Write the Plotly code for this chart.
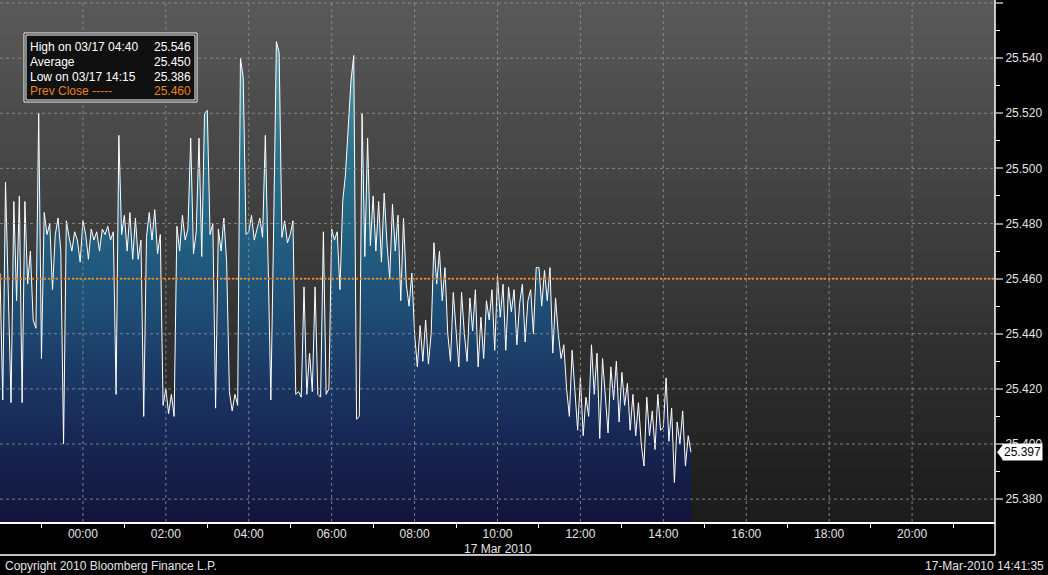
import plotly.graph_objects as go
import pandas as pd

# ---------------- data ----------------
start_time = "2010-03-16 22:00"
step_minutes = 4

price = [
    # 22:00
    25.462, 25.416, 25.495, 25.451, 25.415, 25.488, 25.452, 25.490, 25.415, 25.488, 25.458, 25.470, 25.445, 25.442, 25.520,
    # 23:00
    25.431, 25.484, 25.476, 25.480, 25.456, 25.476, 25.482, 25.470, 25.400, 25.481, 25.475, 25.470, 25.477, 25.474, 25.466,
    # 00:00
    25.481, 25.476, 25.467, 25.478, 25.474, 25.477, 25.470, 25.478, 25.476, 25.479, 25.474, 25.477, 25.418, 25.512, 25.476,
    # 01:00
    25.483, 25.470, 25.484, 25.467, 25.482, 25.467, 25.474, 25.410, 25.475, 25.484, 25.474, 25.485, 25.469, 25.476, 25.414,
    # 02:00
    25.420, 25.411, 25.418, 25.410, 25.479, 25.470, 25.483, 25.474, 25.478, 25.511, 25.469, 25.477, 25.511, 25.468, 25.520,
    # 03:00
    25.521, 25.476, 25.480, 25.413, 25.478, 25.470, 25.482, 25.466, 25.419, 25.412, 25.418, 25.414, 25.540, 25.533, 25.476,
    # 04:00
    25.477, 25.483, 25.474, 25.478, 25.482, 25.475, 25.512, 25.466, 25.416, 25.478, 25.546, 25.542, 25.475, 25.481, 25.473,
    # 05:00
    25.476, 25.481, 25.418, 25.419, 25.417, 25.457, 25.418, 25.433, 25.419, 25.457, 25.418, 25.417, 25.477, 25.418, 25.420,
    # 06:00
    25.478, 25.474, 25.477, 25.456, 25.488, 25.498, 25.515, 25.532, 25.541, 25.409, 25.410, 25.520, 25.468, 25.511, 25.472,
    # 07:00
    25.490, 25.470, 25.488, 25.466, 25.491, 25.473, 25.460, 25.487, 25.470, 25.483, 25.452, 25.482, 25.458, 25.450, 25.462,
    # 08:00
    25.440, 25.428, 25.443, 25.430, 25.445, 25.429, 25.440, 25.473, 25.458, 25.470, 25.452, 25.464, 25.440, 25.430, 25.455,
    # 09:00
    25.443, 25.428, 25.455, 25.440, 25.430, 25.453, 25.441, 25.456, 25.428, 25.446, 25.431, 25.452, 25.445, 25.456, 25.434,
    # 10:00
    25.461, 25.446, 25.458, 25.434, 25.457, 25.448, 25.456, 25.436, 25.451, 25.458, 25.437, 25.452, 25.456, 25.440, 25.464,
    # 11:00
    25.464, 25.450, 25.463, 25.452, 25.464, 25.433, 25.453, 25.440, 25.431, 25.436, 25.420, 25.410, 25.434, 25.418, 25.405,
    # 12:00
    25.424, 25.403, 25.417, 25.410, 25.436, 25.418, 25.433, 25.402, 25.431, 25.418, 25.404, 25.428, 25.416, 25.430, 25.408,
    # 13:00
    25.426, 25.414, 25.422, 25.405, 25.418, 25.403, 25.415, 25.400, 25.392, 25.417, 25.403, 25.412, 25.398, 25.418, 25.405,
    # 14:00
    25.406, 25.424, 25.401, 25.413, 25.386, 25.408, 25.400, 25.412, 25.392, 25.403, 25.397,
]

prev_close = 25.460
high_value, high_time = 25.546, "03/17 04:40"
avg_value = 25.450
low_value, low_time = 25.386, "03/17 14:15"

x_range = ["2010-03-16 22:00", "2010-03-17 22:00"]
x_tick_times = ["2010-03-17 00:00", "2010-03-17 02:00", "2010-03-17 04:00", "2010-03-17 06:00",
                "2010-03-17 08:00", "2010-03-17 10:00", "2010-03-17 12:00", "2010-03-17 14:00",
                "2010-03-17 16:00", "2010-03-17 18:00", "2010-03-17 20:00"]
x_tick_labels = ["00:00", "02:00", "04:00", "06:00", "08:00", "10:00",
                 "12:00", "14:00", "16:00", "18:00", "20:00"]
date_label = "17 Mar 2010"
date_label_time = "2010-03-17 10:00"
y_range = [25.3717, 25.5611]
y_ticks = [25.380, 25.400, 25.420, 25.440, 25.460, 25.480, 25.500, 25.520, 25.540, 25.560]

footer_left = "Copyright 2010 Bloomberg Finance L.P."
footer_right = "17-Mar-2010 14:41:35"

# ---------------- figure ----------------
W, H = 1048, 575
ML, MR, MT, MB = 0, 53, 0, 53
PW, PH = W - ML - MR, H - MT - MB

def px(xp):
    return xp / PW

def py(yp):
    return (PH - yp) / PH

times = pd.date_range(start_time, periods=len(price), freq=f"{step_minutes}min")

FONT = "Liberation Sans, Arial, sans-serif"
TXT = "rgb(228,228,228)"

fig = go.Figure()
fig.add_trace(go.Scatter(
    x=times, y=price, mode="lines", line=dict(color="white", width=1, shape="linear"),
    fill="tozeroy",
    fillgradient=dict(type="vertical", start=25.372, stop=25.546,
                      colorscale=[[0.0, "rgb(18,20,60)"], [0.2, "rgb(24,42,88)"],
                                  [0.45, "rgb(30,78,118)"], [0.6, "rgb(34,97,130)"],
                                  [0.75, "rgb(40,112,138)"], [1.0, "rgb(85,155,165)"]]),
    hoverinfo="skip", showlegend=False,
))

shapes = []
# background gradient bands
n_bands = 29
top_c, bot_c = (88, 88, 88), (28, 28, 28)
for i in range(n_bands):
    t = i / (n_bands - 1)
    c = tuple(round(top_c[k] + (bot_c[k] - top_c[k]) * t) for k in range(3))
    shapes.append(dict(type="rect", xref="paper", yref="paper", x0=0, x1=1,
                       y0=1 - (i + 1) / n_bands, y1=1 - i / n_bands,
                       fillcolor=f"rgb{c}", line=dict(width=0), layer="below"))
# grid lines (drawn over the fill like the original)
grid = dict(color="rgba(150,150,150,0.8)", width=1, dash="3px,3px")
for tv in x_tick_times:
    shapes.append(dict(type="line", xref="x", yref="paper", x0=tv, x1=tv, y0=0, y1=1,
                       line=grid, layer="above"))
for yv in y_ticks:
    shapes.append(dict(type="line", xref="paper", yref="y", x0=0, x1=1, y0=yv, y1=yv,
                       line=grid, layer="above"))
# previous close
shapes.append(dict(type="line", xref="paper", yref="y", x0=0, x1=1, y0=prev_close, y1=prev_close,
                   line=dict(color="rgb(232,130,30)", width=2, dash="2px,2px"), layer="above"))
# x axis box bottom + right edge extension
shapes.append(dict(type="line", xref="paper", yref="paper", x0=0, x1=1, y0=py(555), y1=py(555),
                   line=dict(color="white", width=1.5)))
shapes.append(dict(type="line", xref="paper", yref="paper", x0=1, x1=1, y0=py(555), y1=1,
                   line=dict(color="white", width=1.5)))
# info box
shapes.append(dict(type="rect", xref="paper", yref="paper", x0=px(24), x1=px(197), y0=py(102), y1=py(33),
                   fillcolor="rgb(16,16,16)", line=dict(color="white", width=1), layer="above"))
shapes.append(dict(type="rect", xref="paper", yref="paper", x0=px(26), x1=px(195), y0=py(100), y1=py(35),
                   fillcolor="rgb(16,16,16)", line=dict(color="white", width=1), layer="above"))
# last value marker arrow
last = price[-1]
shapes.append(dict(type="path", xref="paper", yref="y",
                   path=f"M {px(997)} {last} L {px(1003)} {last + 0.0027} L {px(1003)} {last - 0.0027} Z",
                   fillcolor="white", line=dict(width=0), layer="above"))

annotations = []
rows = [
    (f"High on {high_time}", f"{high_value:.3f}", "white", 47),
    ("Average", f"{avg_value:.3f}", "white", 62),
    (f"Low on {low_time}", f"{low_value:.3f}", "white", 77),
    ("Prev Close -----", f"{prev_close:.3f}", "rgb(232,130,30)", 91),
]
for lab, val, col, yp in rows:
    annotations.append(dict(xref="paper", yref="paper", x=px(28), y=py(yp), text=lab, showarrow=False,
                            xanchor="left", yanchor="middle", font=dict(family=FONT, size=12, color=col)))
    annotations.append(dict(xref="paper", yref="paper", x=px(193), y=py(yp), text=val, showarrow=False,
                            xanchor="right", yanchor="middle", font=dict(family=FONT, size=12, color=col)))
annotations.append(dict(xref="paper", yref="y", x=px(1002), y=last, text=f"{last:.3f}", showarrow=False,
                        xanchor="left", yanchor="middle", bgcolor="white", borderpad=1,
                        font=dict(family=FONT, size=12, color="black")))
annotations.append(dict(xref="x", yref="paper", x=date_label_time, y=py(549), text=date_label,
                        showarrow=False, xanchor="center", yanchor="middle",
                        font=dict(family=FONT, size=12, color=TXT)))
annotations.append(dict(xref="paper", yref="paper", x=px(3), y=py(566), text=footer_left,
                        showarrow=False, xanchor="left", yanchor="middle",
                        font=dict(family=FONT, size=12, color=TXT)))
annotations.append(dict(xref="paper", yref="paper", x=px(1046), y=py(566), text=footer_right,
                        showarrow=False, xanchor="right", yanchor="middle",
                        font=dict(family=FONT, size=12, color=TXT)))

fig.update_layout(
    width=W, height=H, margin=dict(l=ML, r=MR, t=MT, b=MB),
    paper_bgcolor="black", plot_bgcolor="rgb(45,45,45)",
    shapes=shapes, annotations=annotations, showlegend=False,
    xaxis=dict(type="date", range=x_range, tickvals=x_tick_times, ticktext=x_tick_labels,
               showgrid=False, zeroline=False, ticks="", showline=True, linecolor="white", linewidth=1.5,
               tickfont=dict(family=FONT, size=12, color=TXT), ticklabelstandoff=0,
               minor=dict(ticks="outside", ticklen=4, tickcolor="white", tickwidth=1,
                          tick0="2010-03-16 23:00", dtick=7200000, showgrid=False)),
    yaxis=dict(side="right", range=y_range, tickvals=y_ticks, tickformat=".3f",
               showgrid=False, zeroline=False, ticks="outside", ticklen=7, tickwidth=2,
               tickcolor="rgb(140,140,140)", showline=False,
               tickfont=dict(family=FONT, size=12, color=TXT),
               minor=dict(ticks="outside", ticklen=4, tickcolor="white", tickwidth=1,
                          tick0=25.37, dtick=0.02, showgrid=False)),
)

fig.write_html("out.html", config={"displayModeBar": False},
               post_script="document.body.style.margin='0';")
